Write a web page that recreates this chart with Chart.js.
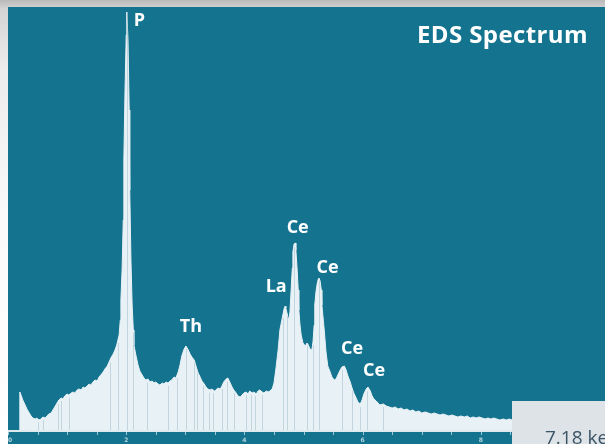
<!DOCTYPE html>
<html>
<head>
<meta charset="utf-8">
<script src="https://cdn.jsdelivr.net/npm/chart.js@4/dist/chart.umd.min.js"></script>
<style>
  html, body { margin: 0; padding: 0; overflow: hidden; background: #fff; }
  canvas { display: block; }
</style>
</head>
<body>
<canvas id="c" width="605" height="444"></canvas>
<script>
// Energy axis (keV) and detector counts of the spectrum
const energyKeV = [
  0.19, 0.20, 0.22, 0.25, 0.29, 0.32, 0.36, 0.39, 0.42, 0.46, 0.49, 0.52, 0.56, 0.59, 0.63, 0.66, 0.69,
  0.73, 0.76, 0.80, 0.83, 0.86, 0.90, 0.93, 0.96, 1.00, 1.03, 1.07, 1.10, 1.13, 1.17, 1.20, 1.24, 1.27,
  1.30, 1.34, 1.37, 1.40, 1.44, 1.47, 1.51, 1.54, 1.57, 1.61, 1.64, 1.68, 1.71, 1.74, 1.78, 1.81, 1.84,
  1.88, 1.90, 1.91, 1.93, 1.95, 1.96, 1.98, 2.00, 2.01, 2.03, 2.05, 2.06, 2.08, 2.10, 2.12, 2.13, 2.17,
  2.20, 2.23, 2.27, 2.30, 2.33, 2.37, 2.40, 2.44, 2.47, 2.50, 2.54, 2.57, 2.61, 2.64, 2.67, 2.71, 2.74,
  2.77, 2.81, 2.84, 2.88, 2.91, 2.94, 2.98, 3.01, 3.05, 3.08, 3.11, 3.15, 3.18, 3.21, 3.25, 3.28, 3.32,
  3.35, 3.38, 3.42, 3.45, 3.49, 3.52, 3.55, 3.59, 3.62, 3.65, 3.69, 3.72, 3.76, 3.79, 3.82, 3.86, 3.89,
  3.93, 3.96, 3.99, 4.03, 4.06, 4.09, 4.13, 4.16, 4.20, 4.23, 4.26, 4.30, 4.33, 4.37, 4.40, 4.43, 4.47,
  4.50, 4.53, 4.55, 4.57, 4.60, 4.64, 4.67, 4.69, 4.70, 4.74, 4.75, 4.77, 4.79, 4.81, 4.82, 4.84, 4.86,
  4.87, 4.89, 4.91, 4.92, 4.94, 4.96, 4.99, 5.03, 5.06, 5.08, 5.11, 5.14, 5.16, 5.18, 5.19, 5.21, 5.23,
  5.25, 5.26, 5.28, 5.30, 5.31, 5.35, 5.38, 5.41, 5.45, 5.48, 5.52, 5.55, 5.58, 5.62, 5.65, 5.69, 5.72,
  5.75, 5.79, 5.82, 5.85, 5.89, 5.92, 5.96, 5.99, 6.02, 6.06, 6.09, 6.13, 6.16, 6.19, 6.23, 6.26, 6.29,
  6.35, 6.40, 6.45, 6.50, 6.55, 6.60, 6.65, 6.70, 6.75, 6.80, 6.85, 6.90, 6.95, 7.00, 7.06, 7.11, 7.16,
  7.21, 7.26, 7.31, 7.36, 7.41, 7.46, 7.51, 7.56, 7.61, 7.66, 7.72, 7.77, 7.82, 7.87, 7.92, 7.97, 8.02,
  8.07, 8.12, 8.17, 8.22, 8.27, 8.32, 8.38, 8.43, 8.48, 8.53, 8.58, 8.83, 9.34
];
const counts = [
  0, 390, 360, 310, 260, 220, 180, 150, 130, 120, 130, 110, 120, 140, 130, 150, 170,
  180, 210, 250, 280, 310, 330, 320, 350, 370, 360, 380, 390, 380, 410, 420, 410, 440,
  430, 450, 470, 460, 490, 510, 500, 540, 560, 590, 620, 650, 690, 730, 770, 810, 860,
  960, 1110, 1310, 1610, 2110, 2710, 3410, 3960, 4190, 3910, 3210, 2410, 1710, 1260, 1010, 860, 740,
  660, 600, 560, 530, 510, 520, 490, 500, 480, 490, 470, 460, 480, 470, 490, 480, 500,
  510, 540, 530, 590, 660, 750, 820, 850, 810, 770, 740, 710, 650, 590, 540, 500, 470,
  440, 420, 410, 420, 400, 410, 430, 420, 450, 490, 520, 530, 480, 440, 410, 380, 350,
  340, 360, 380, 390, 370, 400, 380, 390, 370, 400, 410, 390, 380, 400, 390, 400, 420,
  480, 610, 710, 810, 1010, 1130, 1220, 1250, 1230, 1130, 1090, 1190, 1410, 1630, 1790, 1870, 1880,
  1810, 1630, 1410, 1210, 1060, 960, 880, 850, 880, 860, 820, 810, 890, 1060, 1260, 1390, 1470,
  1520, 1530, 1500, 1410, 1260, 1010, 790, 650, 590, 540, 510, 520, 560, 610, 640, 650, 610,
  550, 490, 430, 380, 330, 290, 270, 310, 370, 420, 440, 400, 350, 320, 300, 280, 260,
  270, 250, 240, 230, 240, 220, 230, 210, 220, 200, 210, 190, 200, 180, 190, 180, 170,
  180, 170, 160, 170, 160, 150, 160, 150, 140, 150, 140, 150, 130, 140, 130, 140, 130,
  120, 130, 120, 130, 120, 110, 120, 110, 120, 110, 110, 100, 100
];

// Identified peaks
const peakNames = ['P', 'Th', 'La', 'Ce', 'Ce', 'Ce', 'Ce'];
const peakKeV = [2.01, 3.01, 4.69, 4.85, 5.27, 5.67, 6.09];

// Element line markers (keV)
const lineMarkersKeV = [0.51, 0.59, 0.85, 0.90, 1.03, 1.73, 1.86, 2.01, 2.12, 2.35, 2.71, 2.86, 3.01,
  3.15, 3.20, 3.30, 3.40, 3.47, 3.62, 3.70, 3.82, 4.03, 4.11, 4.18, 4.30, 4.65, 4.72, 4.84, 5.06,
  5.16, 5.26, 5.65, 5.82, 5.96, 6.07, 6.35];

// Energy axis ticks
const majorTicksKeV = [0, 2, 4, 6, 8];
const minorTickStepKeV = 0.5;

// Cursor readout
const cursorText = '7.18 keV';

const TEAL = '#14748f';
const FILL = '#e8f1f5';

function countsAt(e) {
  if (e <= energyKeV[0]) return counts[0];
  for (let i = 1; i < energyKeV.length; i++) {
    if (e <= energyKeV[i]) {
      const t = (e - energyKeV[i - 1]) / (energyKeV[i] - energyKeV[i - 1]);
      return counts[i - 1] + t * (counts[i] - counts[i - 1]);
    }
  }
  return counts[counts.length - 1];
}

function peakTop(e) {
  // highest sample within a small window around the line energy
  let best = 0;
  energyKeV.forEach((x, i) => { if (Math.abs(x - e) <= 0.03 && counts[i] > best) best = counts[i]; });
  return best;
}

const backdrop = {
  id: 'backdrop',
  beforeDraw(chart) {
    const ctx = chart.ctx, W = chart.width, H = chart.height;
    ctx.save();
    const g = ctx.createLinearGradient(0, 0, 0, H);
    g.addColorStop(0, '#b9b9b9');
    g.addColorStop(0.02, '#d4d4d4');
    g.addColorStop(0.15, '#ececec');
    g.addColorStop(0.5, '#fafafa');
    g.addColorStop(1, '#ffffff');
    ctx.fillStyle = g;
    ctx.fillRect(0, 0, W, H);
    const a = chart.chartArea;
    ctx.fillStyle = TEAL;
    ctx.fillRect(a.left, a.top, W - a.left, H - a.top);
    ctx.restore();
  }
};

// label offsets in pixels relative to each peak apex: [dx, dy, align]
const labelPlacement = [[7, 3, 'left'], [5, -25, 'center'], [-9, -25, 'center'], [3, -21, 'center'],
  [8, -16, 'center'], [9, -23, 'center'], [6, -22, 'center']];

const overlay = {
  id: 'overlay',
  afterDatasetsDraw(chart) {
    const ctx = chart.ctx, xs = chart.scales.x, ys = chart.scales.y, a = chart.chartArea;
    const W = chart.width, H = chart.height;
    ctx.save();

    // element line markers
    ctx.strokeStyle = 'rgba(105,150,172,0.3)';
    ctx.lineWidth = 1;
    lineMarkersKeV.forEach(e => {
      const x = Math.round(xs.getPixelForValue(e)) + 0.5;
      const top = ys.getPixelForValue(countsAt(e)) + 3;
      ctx.beginPath();
      ctx.moveTo(x, a.bottom);
      ctx.lineTo(x, top);
      ctx.stroke();
    });

    // baseline
    ctx.fillStyle = '#dfeaef';
    ctx.fillRect(a.left, a.bottom - 1, W - a.left, 2);

    // energy ticks
    ctx.fillStyle = 'rgba(220,235,242,0.7)';
    for (let e = 0; e <= xs.max; e += minorTickStepKeV) {
      const x = Math.round(xs.getPixelForValue(e));
      ctx.fillRect(x, a.bottom + 1, 1, 3);
    }
    ctx.font = 'bold 6px "DejaVu Sans"';
    ctx.textAlign = 'center';
    ctx.textBaseline = 'alphabetic';
    ctx.fillStyle = 'rgba(230,240,245,0.75)';
    majorTicksKeV.forEach(e => {
      const x = xs.getPixelForValue(e);
      ctx.fillText(String(e), e === 0 ? x + 2 : x, H - 2);
    });

    // peak labels
    ctx.fillStyle = '#ffffff';
    ctx.font = 'bold 18px "Open Sans"';
    ctx.textBaseline = 'top';
    peakNames.forEach((name, i) => {
      const e = peakKeV[i];
      const px = xs.getPixelForValue(e);
      const py = ys.getPixelForValue(peakTop(e));
      const [dx, dy, align] = labelPlacement[i];
      ctx.textAlign = align;
      ctx.fillText(name, px + dx, py + dy - 3);
    });

    // title
    ctx.font = 'bold 24px "Open Sans"';
    ctx.letterSpacing = '0.4px';
    ctx.textAlign = 'right';
    ctx.textBaseline = 'alphabetic';
    ctx.fillText('EDS Spectrum', 588, 43);
    ctx.letterSpacing = '0px';

    // cursor readout box
    ctx.fillStyle = '#dde3e6';
    ctx.fillRect(512, 401, W - 512, H - 401);
    ctx.fillStyle = '#3b5466';
    ctx.font = '19px "Open Sans"';
    ctx.textAlign = 'left';
    ctx.fillText(cursorText, 545, 444);

    ctx.restore();
  }
};

new Chart(document.getElementById('c'), {
  type: 'line',
  data: {
    datasets: [{
      data: energyKeV.map((e, i) => ({ x: e, y: counts[i] })),
      fill: 'origin',
      backgroundColor: FILL,
      borderColor: FILL,
      borderWidth: 1,
      pointRadius: 0,
      tension: 0
    }]
  },
  options: {
    responsive: false,
    animation: false,
    layout: { padding: { left: 8, top: 7, right: 0, bottom: 13 } },
    scales: {
      x: { type: 'linear', min: 0, max: 10.1, display: false },
      y: { min: 0, max: 4240, display: false }
    },
    plugins: { legend: { display: false }, tooltip: { enabled: false } }
  },
  plugins: [backdrop, overlay]
});
</script>
</body>
</html>
